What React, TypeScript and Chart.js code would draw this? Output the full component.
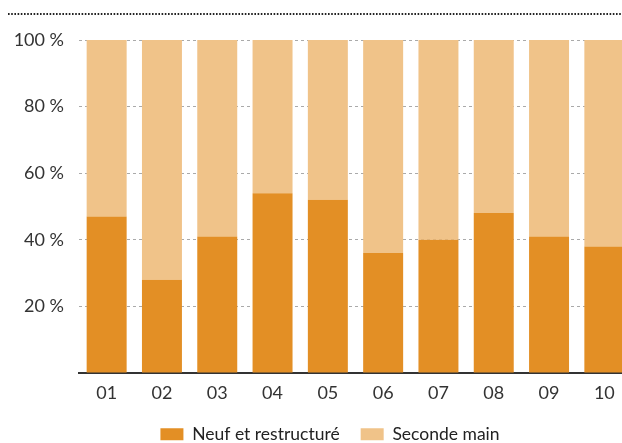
import React, { useEffect, useRef } from "react";
import { Chart, registerables } from "chart.js";

Chart.register(...registerables);

const categories = ["01", "02", "03", "04", "05", "06", "07", "08", "09", "10"];
const neufValues = [47, 28, 41, 54, 52, 36, 40, 48, 41, 38];
const secondeValues = neufValues.map((v) => 100 - v);
const yTicks = [0, 20, 40, 60, 80, 100];
const seriesLabels = ["Neuf et restructuré", "Seconde main"];

const FONT = "Lato, 'Open Sans', sans-serif";

const topRule = {
  id: "topRule",
  beforeDraw(chart: any) {
    const lg = chart.legend;
    if (lg && !lg._shifted) {
      lg.left += 28;
      lg._shifted = true;
    }
  },
  afterDraw(chart: any) {
    const ctx = chart.ctx;
    ctx.save();
    ctx.strokeStyle = "#222";
    ctx.lineWidth = 2;
    ctx.setLineDash([1.6, 1.6]);
    ctx.beginPath();
    ctx.moveTo(8, 14);
    ctx.lineTo(622, 14);
    ctx.stroke();
    ctx.restore();
  },
};

export default function App() {
  const ref = useRef<HTMLCanvasElement>(null);
  useEffect(() => {
    document.body.style.margin = "0";
    document.body.style.overflow = "hidden";
    const chart = new Chart(ref.current!, {
      type: "bar",
      data: {
        labels: categories,
        datasets: [
          {
            label: seriesLabels[0],
            data: neufValues,
            backgroundColor: "#E38F25",
            barPercentage: 0.723,
            categoryPercentage: 1,
          },
          {
            label: seriesLabels[1],
            data: secondeValues,
            backgroundColor: "#F0C389",
            barPercentage: 0.723,
            categoryPercentage: 1,
          },
        ],
      },
      options: {
        responsive: false,
        animation: false,
        devicePixelRatio: 1,
        layout: { padding: { top: 40, right: 0, left: 0, bottom: 0 } },
        plugins: {
          tooltip: { enabled: false },
          legend: {
            position: "bottom",
            labels: {
              boxWidth: 23,
              boxHeight: 12,
              padding: 21,
              color: "#222",
              font: { family: FONT, size: 17.5 },
            },
          },
        },
        scales: {
          x: {
            stacked: true,
            grid: { display: false },
            border: { display: true, color: "#333", width: 2 },
            ticks: { color: "#333", font: { family: FONT, size: 18 }, padding: 1 },
          },
          y: {
            stacked: true,
            min: 0,
            max: 100,
            afterFit: (s: any) => {
              s.width = 79;
            },
            afterBuildTicks: (s: any) => {
              s.ticks = yTicks.map((v) => ({ value: v }));
            },
            grid: { color: "#aaa", lineWidth: 1, drawTicks: false },
            border: { display: false, dash: [3, 3] },
            ticks: {
              color: "#333",
              font: { family: FONT, size: 18 },
              padding: 15,
              callback: (v: any) => (v === 0 ? "" : v + " %"),
            },
          },
        },
      },
      plugins: [topRule],
    });
    return () => chart.destroy();
  }, []);
  return (
    <div style={{ position: "absolute", left: 0, top: 0, width: 622, height: 443, overflow: "hidden" }}>
      <canvas ref={ref} width={632} height={453} style={{ display: "block" }} />
    </div>
  );
}
